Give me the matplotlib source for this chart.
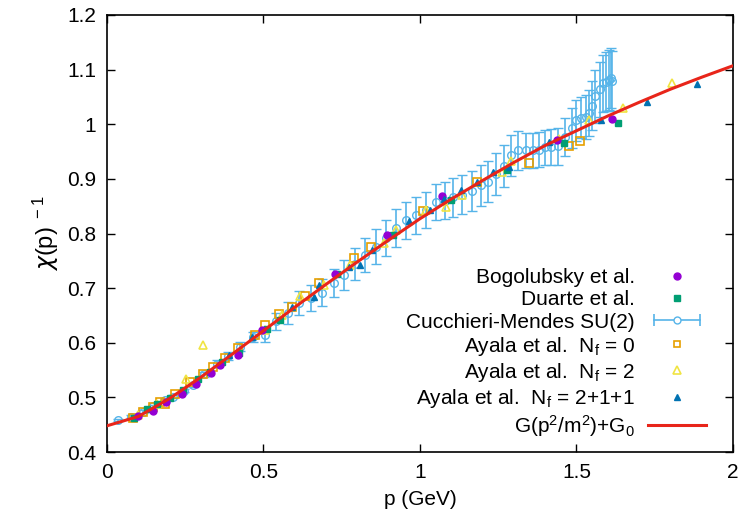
import matplotlib
matplotlib.use("Agg")
import matplotlib.pyplot as plt
from matplotlib.lines import Line2D
from matplotlib.legend_handler import HandlerTuple, HandlerLine2D

plt.rcParams['font.family'] = ['Liberation Sans', 'DejaVu Sans']
plt.rcParams['mathtext.default'] = 'regular'

# Fit curve G(p^2/m^2)+G0
fit_p = [0.0, 0.1, 0.2, 0.3, 0.4, 0.5, 0.6, 0.7, 0.8, 0.9, 1.0,
         1.1, 1.2, 1.3, 1.4, 1.5, 1.6, 1.7, 1.8, 1.9, 2.0]
fit_v = [0.448, 0.465, 0.498, 0.537, 0.579, 0.622, 0.665, 0.707, 0.748, 0.788, 0.827,
         0.863, 0.897, 0.930, 0.961, 0.988, 1.015, 1.040, 1.064, 1.086, 1.107]

# Bogolubsky et al.
bog_p = [0.10, 0.148, 0.19, 0.24, 0.283, 0.333, 0.362, 0.418, 0.495, 0.73, 0.895, 1.071, 1.437, 1.615]
bog_v = [0.466, 0.475, 0.492, 0.506, 0.525, 0.545, 0.559, 0.578, 0.623, 0.726, 0.797, 0.868, 0.972, 1.009]

# Duarte et al.
dua_p = [0.087, 0.127, 0.159, 0.20, 0.244, 0.292, 0.33, 0.367, 0.423, 0.511, 0.554, 0.735,
         0.914, 1.10, 1.279, 1.46, 1.633]
dua_v = [0.463, 0.479, 0.488, 0.499, 0.513, 0.534, 0.547, 0.564, 0.582, 0.625, 0.641, 0.726,
         0.797, 0.862, 0.917, 0.965, 1.002]

# Cucchieri-Mendes SU(2)
cm_p = [0.036, 0.077, 0.115, 0.148, 0.186, 0.212, 0.245, 0.276, 0.31, 0.35, 0.388, 0.425,
        0.468, 0.506, 0.541, 0.58, 0.615, 0.653, 0.687, 0.724, 0.756, 0.794, 0.826, 0.86,
        0.893, 0.925, 0.957, 0.989, 1.018, 1.05, 1.08, 1.107, 1.135, 1.165, 1.194, 1.218,
        1.244, 1.268, 1.29, 1.314, 1.338, 1.36, 1.38, 1.40, 1.42, 1.44, 1.463, 1.485,
        1.50, 1.514, 1.53, 1.539, 1.55, 1.56, 1.574, 1.585, 1.594, 1.603, 1.61, 1.615]
cm_v = [0.459, 0.465, 0.474, 0.484, 0.495, 0.501, 0.512, 0.523, 0.542, 0.562, 0.576, 0.593,
        0.611, 0.614, 0.639, 0.654, 0.673, 0.682, 0.692, 0.709, 0.724, 0.744, 0.761, 0.776,
        0.792, 0.81, 0.824, 0.833, 0.843, 0.857, 0.86, 0.866, 0.871, 0.878, 0.888, 0.895,
        0.909, 0.924, 0.943, 0.952, 0.952, 0.952, 0.953, 0.958, 0.959, 0.96, 0.977, 0.993,
        1.007, 1.012, 1.013, 1.02, 1.034, 1.051, 1.064, 1.075, 1.078, 1.081, 1.084, 1.08]
cm_err = [0.002, 0.002, 0.002, 0.002, 0.003, 0.003, 0.003, 0.004, 0.005, 0.006, 0.007, 0.008,
          0.009, 0.012, 0.016, 0.02, 0.022, 0.023, 0.025, 0.026, 0.028, 0.03, 0.031, 0.032,
          0.033, 0.034, 0.034, 0.034, 0.033, 0.033, 0.034, 0.035, 0.036, 0.037, 0.037, 0.038,
          0.038, 0.038, 0.037, 0.035, 0.032, 0.032, 0.032, 0.032, 0.033, 0.034, 0.035, 0.036,
          0.037, 0.038, 0.04, 0.042, 0.045, 0.048, 0.05, 0.052, 0.054, 0.055, 0.055, 0.055]

# Ayala et al. Nf = 0
a0_p = [0.084, 0.116, 0.148, 0.17, 0.186, 0.218, 0.266, 0.308, 0.34, 0.378, 0.42, 0.474,
        0.506, 0.551, 0.59, 0.632, 0.676, 0.79, 0.845, 1.011, 1.181, 1.35, 1.476, 1.51]
a0_v = [0.462, 0.474, 0.483, 0.492, 0.488, 0.507, 0.528, 0.543, 0.556, 0.573, 0.59, 0.614,
        0.632, 0.653, 0.666, 0.686, 0.709, 0.756, 0.776, 0.841, 0.894, 0.929, 0.96, 0.97]

# Ayala et al. Nf = 2
a2_p = [0.10, 0.16, 0.253, 0.308, 0.506, 0.56, 0.618, 0.692, 0.778, 0.885, 0.925, 1.018,
        1.082, 1.135, 1.263, 1.29, 1.444, 1.54, 1.65, 1.807]
a2_v = [0.468, 0.487, 0.533, 0.596, 0.623, 0.651, 0.686, 0.706, 0.742, 0.782, 0.807, 0.843,
        0.849, 0.871, 0.913, 0.932, 0.973, 1.008, 1.029, 1.075]

# Ayala et al. Nf = 2+1+1
a4_p = [0.39, 0.463, 0.59, 0.66, 0.676, 0.772, 0.807, 0.847, 0.966, 1.032, 1.078, 1.13,
        1.181, 1.235, 1.285, 1.412, 1.58, 1.727, 1.887]
a4_v = [0.577, 0.61, 0.666, 0.684, 0.706, 0.739, 0.742, 0.77, 0.822, 0.843, 0.863, 0.879,
        0.895, 0.912, 0.921, 0.967, 1.007, 1.04, 1.074]

C_BOG = "#9400d3"
C_DUA = "#009e73"
C_CM = "#56b4e9"
C_A0 = "#e69f00"
C_A2 = "#f0e442"
C_A4 = "#0072b2"
C_FIT = "#e8251a"

fig = plt.figure(figsize=(7.41, 5.17), dpi=100)
ax = fig.add_axes([0.1444, 0.1257, 0.8446, 0.8453])

ax.errorbar(cm_p, cm_v, yerr=cm_err, fmt='o', mfc='none', mec=C_CM, ecolor=C_CM,
            ms=5.5, mew=1.0, elinewidth=1.2, capsize=3.5, capthick=1.2, zorder=2)
ax.plot(a0_p, a0_v, 's', mfc='none', mec=C_A0, ms=5.5, mew=1.2, zorder=3)
ax.plot(a2_p, a2_v, '^', mfc='none', mec=C_A2, ms=6, mew=1.2, zorder=3)
ax.plot(dua_p, dua_v, 's', color=C_DUA, ms=5, zorder=3)
ax.plot(bog_p, bog_v, 'o', color=C_BOG, ms=5, zorder=3)
ax.plot(a4_p, a4_v, '^', color=C_A4, ms=5, zorder=3)
ax.plot(fit_p, fit_v, '-', color=C_FIT, lw=2.2, zorder=4)

ax.set_xlim(0, 2)
ax.set_ylim(0.4, 1.2)
ax.set_xticks([0, 0.5, 1, 1.5, 2])
ax.set_xticklabels(['0', '0.5', '1', '1.5', '2'])
ax.set_yticks([0.4, 0.5, 0.6, 0.7, 0.8, 0.9, 1.0, 1.1, 1.2])
ax.set_yticklabels(['0.4', '0.5', '0.6', '0.7', '0.8', '0.9', '1', '1.1', '1.2'])
ax.tick_params(direction='in', length=6, width=1, top=True, right=True,
               labelsize=15, pad=8)
for s in ax.spines.values():
    s.set_linewidth(1.2)

ax.set_xlabel('p (GeV)', fontsize=15, labelpad=6)
ax.set_ylabel(r'$\mathit{\chi}$(p)$^{\ -1}$', fontsize=17, labelpad=4)

# legend (gnuplot style: text first, sample right)
h_bog = Line2D([], [], ls='none', marker='o', color=C_BOG, ms=5)
h_dua = Line2D([], [], ls='none', marker='s', color=C_DUA, ms=5)
h_cm_line = Line2D([], [], color=C_CM, lw=1.2, marker='|', ms=8, mew=1.2)
h_cm_pt = Line2D([], [], ls='none', marker='o', mfc='white', mec=C_CM, ms=5, mew=1.0)
h_a0 = Line2D([], [], ls='none', marker='s', mfc='none', mec=C_A0, ms=5, mew=1.2)
h_a2 = Line2D([], [], ls='none', marker='^', mfc='none', mec=C_A2, ms=5.5, mew=1.2)
h_a4 = Line2D([], [], ls='none', marker='^', color=C_A4, ms=5)
h_fit = Line2D([], [], color=C_FIT, lw=2.2)

handles = [h_bog, h_dua, (h_cm_line, h_cm_pt), h_a0, h_a2, h_a4, h_fit]
labels = ['Bogolubsky et al.', 'Duarte et al.', 'Cucchieri-Mendes SU(2)',
          r'Ayala et al.  N$_f$ = 0', r'Ayala et al.  N$_f$ = 2',
          r'Ayala et al.  N$_f$ = 2+1+1', r'G(p$^2$/m$^2$)+G$_0$']
ax.legend(handles, labels, loc='lower right', bbox_to_anchor=(0.957, 0.03),
          frameon=False, markerfirst=False, fontsize=15, handlelength=2.8,
          handletextpad=0.6, labelspacing=0.15, borderpad=0, borderaxespad=0,
          numpoints=1,
          handler_map={tuple: HandlerTuple(ndivide=1),
                       h_cm_line: HandlerLine2D(numpoints=2)})

fig.savefig("out.png", dpi=100)
